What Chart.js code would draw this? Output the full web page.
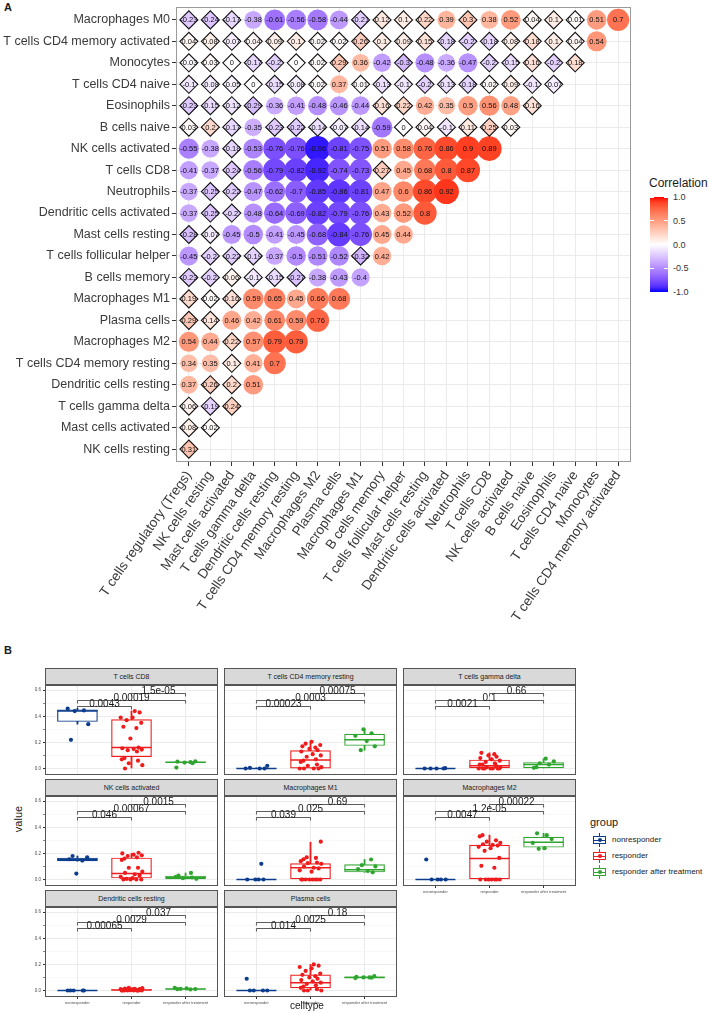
<!DOCTYPE html>
<html>
<head>
<meta charset="utf-8">
<script src="https://cdn.jsdelivr.net/npm/chart.js@4.4.0/dist/chart.umd.min.js"></script>
<style>
  body { margin: 0; background: #fff; font-family: "Liberation Sans", Arial, sans-serif; }
  #page { position: relative; width: 709px; height: 1013px; overflow: hidden; }
  #page canvas { position: absolute; }
  .abs { position: absolute; white-space: nowrap; color: #1a1a1a; }
  .strip { position: absolute; box-sizing: border-box; height: 17px; background: #d9d9d9;
           border: 1px solid #555; font-size: 7px; color: #1a1a1a; text-align: center; line-height: 15px; }
</style>
</head>
<body>
<div id="page"></div>
<script>
// Panel A: correlation between immune cell fractions (lower triangle)
const rowLabels = ['Macrophages M0', 'T cells CD4 memory activated', 'Monocytes', 'T cells CD4 naive',
  'Eosinophils', 'B cells naive', 'NK cells activated', 'T cells CD8', 'Neutrophils',
  'Dendritic cells activated', 'Mast cells resting', 'T cells follicular helper', 'B cells memory',
  'Macrophages M1', 'Plasma cells', 'Macrophages M2', 'T cells CD4 memory resting',
  'Dendritic cells resting', 'T cells gamma delta', 'Mast cells activated', 'NK cells resting'];
const colLabels = ['T cells regulatory (Tregs)', 'NK cells resting', 'Mast cells activated',
  'T cells gamma delta', 'Dendritic cells resting', 'T cells CD4 memory resting', 'Macrophages M2',
  'Plasma cells', 'Macrophages M1', 'B cells memory', 'T cells follicular helper', 'Mast cells resting',
  'Dendritic cells activated', 'Neutrophils', 'T cells CD8', 'NK cells activated', 'B cells naive',
  'Eosinophils', 'T cells CD4 naive', 'Monocytes', 'T cells CD4 memory activated'];
const corrValues = [
  [-0.23, -0.24, -0.17, -0.38, -0.61, -0.56, -0.58, -0.44, -0.21, 0.12, 0.1, 0.22, 0.39, 0.3, 0.38, 0.52, 0.04, 0.1, 0.01, 0.51, 0.7],
  [0.04, 0.08, -0.07, 0.04, 0.09, 0.1, 0.02, 0.02, 0.26, 0.1, 0.09, 0.15, -0.18, -0.2, -0.18, 0.08, 0.18, 0.1, 0.04, 0.54],
  [-0.03, 0.03, 0, -0.17, -0.2, 0, 0.02, 0.29, 0.36, -0.42, -0.3, -0.48, -0.36, -0.47, -0.2, -0.15, 0.16, -0.2, 0.18],
  [-0.1, -0.08, -0.05, 0, -0.15, -0.08, 0.02, 0.37, 0.01, -0.13, -0.1, -0.2, -0.13, -0.18, 0.02, 0.09, -0.1, -0.07],
  [-0.23, -0.15, -0.12, -0.29, -0.36, -0.41, -0.48, -0.46, -0.44, 0.16, 0.22, 0.42, 0.35, 0.5, 0.56, 0.48, 0.16],
  [0.03, 0.2, -0.17, -0.35, -0.23, -0.22, -0.14, -0.07, -0.14, -0.59, 0, 0.04, -0.1, 0.11, 0.25, 0.03],
  [-0.55, -0.38, -0.18, -0.53, -0.76, -0.76, -0.96, -0.81, -0.75, 0.51, 0.58, 0.76, 0.86, 0.9, 0.89],
  [-0.41, -0.37, -0.24, -0.56, -0.79, -0.82, -0.92, -0.74, -0.73, 0.27, 0.45, 0.68, 0.8, 0.87],
  [-0.37, -0.25, -0.22, -0.47, -0.62, -0.7, -0.85, -0.86, -0.81, 0.47, 0.6, 0.86, 0.92],
  [-0.37, -0.25, -0.2, -0.48, -0.64, -0.69, -0.82, -0.79, -0.76, 0.43, 0.52, 0.8],
  [-0.28, -0.07, -0.45, -0.5, -0.41, -0.45, -0.68, -0.84, -0.76, 0.45, 0.44],
  [-0.45, -0.2, -0.22, -0.19, -0.37, -0.5, -0.51, -0.52, -0.32, 0.42],
  [-0.23, -0.2, 0.06, -0.1, -0.15, -0.27, -0.38, -0.43, -0.4],
  [0.19, 0.02, 0.16, 0.59, 0.65, 0.45, 0.66, 0.68],
  [0.29, 0.14, 0.46, 0.42, 0.61, 0.59, 0.76],
  [0.54, 0.44, 0.22, 0.57, 0.79, 0.79],
  [0.34, 0.35, 0.1, 0.41, 0.7],
  [0.37, 0.26, 0.2, 0.51],
  [0.06, -0.19, 0.24],
  [0.08, 0.02],
  [0.31]
];
const sigCutoff = 0.33;   // |r| below this is drawn as a diamond (not significant)
const legendTicks = [1, 0.5, 0, -0.5, -1];

// Panel B: cell fractions by response group
const cellTypes = ['T cells CD8', 'T cells CD4 memory resting', 'T cells gamma delta',
  'NK cells activated', 'Macrophages M1', 'Macrophages M2', 'Dendritic cells resting', 'Plasma cells'];
const groups = ['nonresponder', 'responder', 'responder after treatment'];
const groupColors = ['#0c3c8c', '#ee1c1c', '#2fa52f'];
// p values for nonresp-resp, nonresp-after, resp-after
const pValues = [
  ['0.0043', '0.00019', '1.5e-05'], ['0.00023', '0.0003', '0.00075'], ['0.0021', '0.1', '0.66'],
  ['0.046', '0.00067', '0.0015'], ['0.039', '0.025', '0.69'], ['0.0047', '1.2e-05', '0.00022'],
  ['0.00065', '0.0029', '0.037'], ['0.014', '0.0025', '0.18']
];
// box stats: [lower whisker, q1, median, q3, upper whisker]
const nonresponderBox = [[0.34, 0.36, 0.44, 0.45, 0.46], [0, 0, 0, 0.003, 0.005], [0, 0, 0, 0, 0],
  [0.14, 0.142, 0.155, 0.165, 0.18], [0, 0, 0, 0, 0], [0, 0, 0, 0, 0], [0, 0, 0, 0, 0], [0, 0, 0, 0, 0]];
const responderBox = [[0, 0.09, 0.16, 0.375, 0.44], [0, 0.002, 0.065, 0.137, 0.2], [0, 0, 0.02, 0.065, 0.12],
  [0, 0.011, 0.046, 0.165, 0.2], [0, 0, 0.09, 0.121, 0.286], [0, 0, 0.16, 0.263, 0.34],
  [0, 0, 0.003, 0.008, 0.02], [0, 0.02, 0.06, 0.12, 0.2]];
const afterTreatmentBox = [[0.04, 0.045, 0.047, 0.05, 0.055], [0.14, 0.176, 0.22, 0.263, 0.3],
  [0, 0.005, 0.03, 0.046, 0.075], [0, 0.005, 0.016, 0.027, 0.05], [0.055, 0.057, 0.075, 0.114, 0.153],
  [0.23, 0.247, 0.286, 0.325, 0.354], [0.008, 0.01, 0.012, 0.015, 0.02], [0.095, 0.098, 0.1, 0.104, 0.11]];
const nonresponderPts = [
  [0.46, 0.445, 0.44, 0.34, 0.22], [0.02, 0.005, 0, 0, 0], [0, 0, 0, 0, 0.002],
  [0.18, 0.17, 0.155, 0.145, 0.045], [0.12, 0, 0, 0, 0], [0.153, 0, 0, 0, 0],
  [0, 0, 0, 0, 0], [0.09, 0, 0, 0, 0]];
const responderPts = [
  [0.44, 0.43, 0.39, 0.39, 0.37, 0.35, 0.32, 0.31, 0.23, 0.16, 0.155, 0.15, 0.145, 0.14, 0.13, 0.08, 0.07, 0.06, 0.04, 0.025, 0],
  [0.205, 0.19, 0.18, 0.17, 0.16, 0.15, 0.14, 0.13, 0.11, 0.1, 0.09, 0.07, 0.06, 0.05, 0.03, 0.02, 0.01, 0, 0, 0, 0],
  [0.12, 0.11, 0.1, 0.09, 0.08, 0.07, 0.06, 0.05, 0.04, 0.03, 0.03, 0.02, 0.01, 0.01, 0, 0, 0, 0, 0, 0, 0],
  [0.205, 0.2, 0.19, 0.185, 0.18, 0.17, 0.16, 0.15, 0.09, 0.09, 0.06, 0.05, 0.04, 0.03, 0.02, 0.01, 0.005, 0, 0, 0, 0],
  [0.29, 0.17, 0.165, 0.155, 0.14, 0.13, 0.125, 0.12, 0.1, 0.09, 0.085, 0.07, 0.06, 0, 0, 0, 0, 0, 0, 0, 0],
  [0.34, 0.33, 0.3, 0.29, 0.28, 0.27, 0.265, 0.26, 0.25, 0.24, 0.22, 0.165, 0.105, 0.09, 0, 0, 0, 0, 0, 0, 0],
  [0.02, 0.018, 0.015, 0.012, 0.01, 0.01, 0.008, 0.006, 0.005, 0.004, 0.003, 0.002, 0.001, 0, 0, 0, 0, 0, 0, 0, 0],
  [0.2, 0.19, 0.18, 0.17, 0.15, 0.13, 0.12, 0.11, 0.1, 0.09, 0.08, 0.07, 0.06, 0.05, 0.04, 0.03, 0.02, 0.01, 0, 0, 0]];
const afterTreatmentPts = [
  [0.055, 0.052, 0.048, 0.045, 0.04, 0.007], [0.3, 0.27, 0.25, 0.21, 0.17, 0.14],
  [0.075, 0.055, 0.04, 0.03, 0.01, 0.005], [0.05, 0.03, 0.02, 0.015, 0.01, 0.005],
  [0.153, 0.11, 0.1, 0.08, 0.065, 0.055], [0.354, 0.34, 0.31, 0.28, 0.24, 0.235],
  [0.02, 0.016, 0.013, 0.011, 0.01, 0.008], [0.11, 0.105, 0.1, 0.1, 0.098, 0.095]];
const valueTicks = [0, 0.1, 0.2, 0.3, 0.4, 0.5, 0.6];
const jitterPattern = [-0.18, 0.12, -0.05, 0.2, -0.12, 0.06, 0.15, -0.2, 0.02, -0.09, 0.18,
  -0.15, 0.09, -0.02, 0.13, -0.17, 0.04, 0.19, -0.07, 0.1, -0.13];

const FONT = '"Liberation Sans", Arial, sans-serif';
const page = document.getElementById('page');

function addCanvas(left, top, w, h) {
  const c = document.createElement('canvas');
  c.width = w; c.height = h;
  c.style.left = left + 'px'; c.style.top = top + 'px';
  c.style.width = w + 'px'; c.style.height = h + 'px';
  page.appendChild(c);
  return c;
}
function addText(text, left, top, css) {
  const d = document.createElement('div');
  d.className = 'abs';
  d.textContent = text;
  d.style.left = left + 'px'; d.style.top = top + 'px';
  Object.assign(d.style, css || {});
  page.appendChild(d);
  return d;
}

// blue-white-red scale interpolated in Lab, like ggplot's gradient2
function toLinear(c) { c /= 255; return c <= 0.04045 ? c / 12.92 : Math.pow((c + 0.055) / 1.055, 2.4); }
function toSrgb(c) {
  c = Math.min(1, Math.max(0, c));
  return Math.round(255 * (c <= 0.0031308 ? 12.92 * c : 1.055 * Math.pow(c, 1 / 2.4) - 0.055));
}
function rgbToLab(rgb) {
  const [r, g, b] = rgb.map(toLinear);
  const X = (0.4124 * r + 0.3576 * g + 0.1805 * b) / 0.95047;
  const Y = 0.2126 * r + 0.7152 * g + 0.0722 * b;
  const Z = (0.0193 * r + 0.1192 * g + 0.9505 * b) / 1.08883;
  const f = t => t > 0.008856 ? Math.cbrt(t) : 7.787 * t + 16 / 116;
  return [116 * f(Y) - 16, 500 * (f(X) - f(Y)), 200 * (f(Y) - f(Z))];
}
function labToRgb([L, a, bb]) {
  const fy = (L + 16) / 116, fx = fy + a / 500, fz = fy - bb / 200;
  const inv = t => t > 0.206893 ? t * t * t : (t - 16 / 116) / 7.787;
  const X = 0.95047 * inv(fx), Y = inv(fy), Z = 1.08883 * inv(fz);
  return [toSrgb(3.2406 * X - 1.5372 * Y - 0.4986 * Z),
          toSrgb(-0.9689 * X + 1.8758 * Y + 0.0415 * Z),
          toSrgb(0.0557 * X - 0.2040 * Y + 1.0570 * Z)];
}
const labWhite = rgbToLab([255, 255, 255]), labRed = rgbToLab([255, 0, 0]), labBlue = rgbToLab([0, 0, 255]);
function corrColor(v) {
  const end = v >= 0 ? labRed : labBlue, t = Math.min(1, Math.abs(v));
  const [r, g, b] = labToRgb(labWhite.map((w, i) => w + (end[i] - w) * t));
  return `rgb(${r},${g},${b})`;
}
const fmt = v => String(Number(v.toFixed(2)));

// ---------- Panel A ----------
addText('A', 4, 1, { fontWeight: 'bold', fontSize: '11px' });

const cells = [];
corrValues.forEach((row, r) => row.forEach((v, c) => cells.push({ x: c, y: r, v: v })));

const cellText = {
  id: 'cellText',
  afterDatasetsDraw(chart) {
    const { ctx, scales: { x, y } } = chart;
    ctx.save();
    ctx.font = '7.5px ' + FONT;
    ctx.fillStyle = '#111';
    ctx.textAlign = 'center';
    ctx.textBaseline = 'middle';
    cells.forEach(d => ctx.fillText(fmt(d.v), x.getPixelForValue(d.x), y.getPixelForValue(d.y) + 0.5));
    ctx.restore();
  }
};
const frameA = {
  id: 'frameA',
  afterDraw(chart) {
    const a = chart.chartArea, ctx = chart.ctx;
    ctx.save();
    ctx.strokeStyle = '#9a9a9a';
    ctx.lineWidth = 1;
    ctx.strokeRect(a.left + 0.5, a.top + 0.5, a.right - a.left - 1, a.bottom - a.top - 1);
    ctx.restore();
  }
};

new Chart(addCanvas(0, 0, 640, 640), {
  type: 'scatter',
  data: {
    datasets: [{
      data: cells.filter(d => Math.abs(d.v) < sigCutoff),
      pointStyle: 'rectRot',
      pointRadius: 9,
      backgroundColor: ctx => ctx.raw ? corrColor(ctx.raw.v) : '#fff',
      borderColor: '#111',
      borderWidth: 1.1
    }, {
      data: cells.filter(d => Math.abs(d.v) >= sigCutoff),
      pointStyle: 'circle',
      pointRadius: ctx => ctx.raw ? 6.5 + 6.5 * Math.abs(ctx.raw.v) : 8,
      backgroundColor: ctx => ctx.raw ? corrColor(ctx.raw.v) : '#fff',
      borderWidth: 0
    }]
  },
  options: {
    responsive: false,
    animation: false,
    events: [],
    layout: { autoPadding: false, padding: { top: 7, right: 9, left: 0, bottom: 0 } },
    scales: {
      x: {
        type: 'linear', min: -0.6, max: 20.6,
        afterBuildTicks: s => { s.ticks = colLabels.map((_, i) => ({ value: i })); },
        afterFit: s => { s.height = 178; s.paddingRight = 0; },
        grid: { color: '#ebebeb', lineWidth: 1, tickLength: 4, tickColor: '#333' },
        border: { display: false },
        ticks: {
          autoSkip: false, minRotation: 55, maxRotation: 55, padding: 2,
          font: { size: 13.5, family: FONT }, color: '#3a3a3a',
          callback: v => colLabels[v]
        }
      },
      y: {
        type: 'linear', min: -0.6, max: 20.6, reverse: true,
        afterBuildTicks: s => { s.ticks = rowLabels.map((_, i) => ({ value: i })); },
        afterFit: s => { s.width = 176; s.paddingTop = 0; s.paddingBottom = 0; },
        grid: { color: '#ebebeb', lineWidth: 1, tickLength: 4, tickColor: '#333' },
        border: { display: false },
        ticks: {
          autoSkip: false, padding: 2,
          font: { size: 12.5, family: FONT }, color: '#3a3a3a',
          callback: v => rowLabels[v]
        }
      }
    },
    plugins: { legend: { display: false }, tooltip: { enabled: false } }
  },
  plugins: [cellText, frameA]
});

// colour bar legend
addText('Correlation', 649, 176, { fontSize: '12px' });
const bar = document.createElement('div');
bar.className = 'abs';
Object.assign(bar.style, { left: '650px', top: '197px', width: '18px', height: '95px' });
const stops = [];
for (let i = 0; i <= 20; i++) {
  const v = 1 - i / 10;
  stops.push(corrColor(v) + ' ' + (i * 5) + '%');
}
bar.style.background = 'linear-gradient(to bottom, ' + stops.join(', ') + ')';
page.appendChild(bar);
legendTicks.forEach(v => {
  const y = 197 + 95 * (1 - v) / 2;
  addText(v.toFixed(1), 673, y - 6, { fontSize: '9px', color: '#333', lineHeight: '12px' });
  [650, 664].forEach(x => {
    const t = document.createElement('div');
    t.className = 'abs';
    Object.assign(t.style, { left: x + 'px', top: (y - 0.5) + 'px', width: '4px', height: '1px', background: '#fff' });
    page.appendChild(t);
  });
});

// ---------- Panel B ----------
addText('B', 4, 644, { fontWeight: 'bold', fontSize: '11px' });

const colX = [45, 224, 403];
const stripTop = [668, 779, 890];
const stripH = 17, panelW = 173, panelH = 90;
const bracketLevels = [0.477, 0.524, 0.58];
const bracketPairs = [[1, 2], [1, 3], [2, 3]];

const brackets = {
  id: 'brackets',
  afterDatasetsDraw(chart, args, opts) {
    const { ctx, scales: { x, y } } = chart;
    ctx.save();
    ctx.strokeStyle = '#333';
    ctx.lineWidth = 0.8;
    ctx.fillStyle = '#1a1a1a';
    ctx.font = '10px ' + FONT;
    ctx.textAlign = 'center';
    ctx.textBaseline = 'alphabetic';
    bracketPairs.forEach((p, i) => {
      const x1 = x.getPixelForValue(p[0]), x2 = x.getPixelForValue(p[1]);
      const yy = Math.round(y.getPixelForValue(bracketLevels[i])) + 0.5;
      ctx.beginPath();
      ctx.moveTo(x1, yy + 3); ctx.lineTo(x1, yy); ctx.lineTo(x2, yy); ctx.lineTo(x2, yy + 3);
      ctx.stroke();
      ctx.fillText(opts.labels[i], (x1 + x2) / 2, yy + 0.5);
    });
    ctx.restore();
  }
};
const frameB = {
  id: 'frameB',
  afterDraw(chart) {
    const a = chart.chartArea, ctx = chart.ctx;
    ctx.save();
    ctx.strokeStyle = '#555';
    ctx.lineWidth = 1;
    ctx.strokeRect(a.left + 0.5, a.top + 0.5, a.right - a.left - 1, a.bottom - a.top - 1);
    ctx.restore();
  }
};
const isMajor = v => Math.round(v * 10) % 2 === 0;

function makeFacet(f) {
  const col = f % 3, row = Math.floor(f / 3);
  const showY = col === 0;
  const showX = f >= 5;
  const strip = document.createElement('div');
  strip.className = 'strip';
  strip.textContent = cellTypes[f];
  Object.assign(strip.style, { left: colX[col] + 'px', top: stripTop[row] + 'px', width: panelW + 'px' });
  page.appendChild(strip);

  const yw = showY ? 18 : 0, xh = showX ? 10 : 0;
  const canvas = addCanvas(colX[col] - yw, stripTop[row] + stripH, panelW + yw, panelH + xh);
  const boxes = [nonresponderBox[f], responderBox[f], afterTreatmentBox[f]];
  const pts = [nonresponderPts[f], responderPts[f], afterTreatmentPts[f]];
  const datasets = [];
  groups.forEach((g, gi) => {
    const s = boxes[gi], color = groupColors[gi], xv = gi + 1;
    datasets.push({ type: 'bar', data: [{ x: xv, y: [s[0], s[4]] }], backgroundColor: color,
      borderWidth: 0, barThickness: 1.2, grouped: false, order: 4 });
    datasets.push({ type: 'bar', data: [{ x: xv, y: [s[1], s[3]] }], backgroundColor: '#fff',
      borderColor: color, borderWidth: 1.2, borderSkipped: false, barThickness: 40, grouped: false, order: 3 });
    datasets.push({ type: 'scatter', data: [{ x: xv, y: s[2] }], pointStyle: 'line', pointRadius: 20,
      borderColor: color, borderWidth: 1.5, order: 2 });
    datasets.push({ type: 'scatter',
      data: pts[gi].map((v, i) => ({ x: xv + jitterPattern[(i + gi * 5 + f * 3) % jitterPattern.length], y: v })),
      pointRadius: 2.1, backgroundColor: color, borderWidth: 0, order: 1 });
  });

  new Chart(canvas, {
    type: 'scatter',
    data: { datasets: datasets },
    options: {
      responsive: false,
      animation: false,
      events: [],
      layout: { autoPadding: false, padding: 0 },
      scales: {
        x: {
          type: 'linear', min: 0.4, max: 3.6, offset: false,
          afterBuildTicks: s => { s.ticks = groups.map((_, i) => ({ value: i + 1 })); },
          afterFit: s => { s.height = xh; s.paddingLeft = 0; s.paddingRight = 0; },
          grid: { color: '#ebebeb', lineWidth: 1, drawTicks: showX, tickLength: 2, tickColor: '#333', offset: false },
          border: { display: false },
          ticks: { display: showX, autoSkip: false, maxRotation: 0, padding: 1,
            font: { size: 4, family: FONT }, color: '#4d4d4d', callback: v => groups[v - 1] }
        },
        y: {
          type: 'linear', min: -0.05, max: 0.64,
          afterBuildTicks: s => { s.ticks = valueTicks.map(v => ({ value: v })); },
          afterFit: s => { s.width = yw; s.paddingTop = 0; s.paddingBottom = 0; },
          grid: {
            color: c => c.tick && isMajor(c.tick.value) ? '#ebebeb' : '#f3f3f3',
            lineWidth: c => c.tick && isMajor(c.tick.value) ? 1 : 0.6,
            drawTicks: showY, tickLength: 2, tickColor: '#333'
          },
          border: { display: false },
          ticks: { display: showY, padding: 2, font: { size: 4.5, family: FONT }, color: '#4d4d4d',
            callback: v => isMajor(v) ? v.toFixed(1) : '' }
        }
      },
      plugins: { legend: { display: false }, tooltip: { enabled: false }, brackets: { labels: pValues[f] } }
    },
    plugins: [brackets, frameB]
  });
}
cellTypes.forEach((_, f) => makeFacet(f));

// axis titles
addText('value', 5, 813, { fontSize: '11px', transform: 'rotate(-90deg)', transformOrigin: 'center' });
addText('celltype', 290, 1000, { fontSize: '10px' });

// group legend
addText('group', 590, 816, { fontSize: '11px' });
groups.forEach((g, gi) => {
  const cy = 840 + gi * 16, color = groupColors[gi];
  const key = document.createElement('div');
  key.className = 'abs';
  Object.assign(key.style, { left: '592px', top: (cy - 7) + 'px', width: '15px', height: '14px' });
  key.innerHTML =
    `<div style="position:absolute;left:7px;top:0;width:1px;height:14px;background:${color}"></div>` +
    `<div style="position:absolute;left:1px;top:3px;width:13px;height:8px;box-sizing:border-box;border:1.2px solid ${color};background:#fff"></div>` +
    `<div style="position:absolute;left:1px;top:6.5px;width:13px;height:1.2px;background:${color}"></div>` +
    `<div style="position:absolute;left:5.5px;top:5px;width:4px;height:4px;border-radius:50%;background:${color}"></div>`;
  page.appendChild(key);
  addText(g, 612, cy - 5, { fontSize: '8px', lineHeight: '10px' });
});
</script>
</body>
</html>
